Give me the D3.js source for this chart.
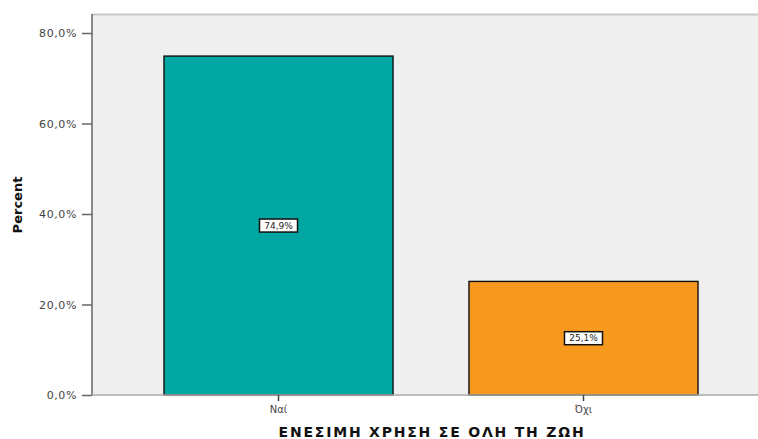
<!DOCTYPE html>
<html>
<head>
<meta charset="utf-8">
<script src="https://cdn.jsdelivr.net/npm/d3@7"></script>
<style>
  body { margin: 0; background: #fff; }
  text { font-family: "DejaVu Sans", Verdana, sans-serif; }
</style>
</head>
<body>
<div id="chart"></div>
<script>
// data
var categories = ["Ναί", "Όχι"];
var percents = [74.9, 25.1];
var yTicks = [0, 20, 40, 60, 80];
var barColors = ["#00a6a1", "#f7991f"];
var xTitle = "ΕΝΕΣΙΜΗ ΧΡΗΣΗ ΣΕ ΟΛΗ ΤΗ ΖΩΗ";
var yTitle = "Percent";

var width = 758,
    height = 439;
// note: "top" is a window global, so use other names
var plotLeft = 92, plotTop = 14, plotBottom = 395;

var svg = d3.select("#chart").append("svg")
    .attr("width", width)
    .attr("height", height);

var y = d3.scaleLinear().domain([0, 84.2]).range([plotBottom, plotTop]);
var x = d3.scaleBand().domain(categories)
    .range([plotLeft, 770])
    .paddingInner(0.249)
    .paddingOuter(0.236);

var fmt = function(v) { return d3.format(".1f")(v).replace(".", ",") + "%"; };

// plot background
svg.append("rect")
    .attr("x", plotLeft).attr("y", plotTop)
    .attr("width", width - plotLeft).attr("height", plotBottom - plotTop)
    .attr("fill", "#efefef");
svg.append("line")
    .attr("x1", plotLeft).attr("x2", width)
    .attr("y1", plotTop + 0.5).attr("y2", plotTop + 0.5)
    .attr("stroke", "#c8c8c8").attr("stroke-width", 2);

// bars
svg.selectAll(".bar")
    .data(percents)
    .enter().append("rect")
    .attr("class", "bar")
    .attr("x", function(d, i) { return x(categories[i]); })
    .attr("y", function(d) { return y(d); })
    .attr("width", x.bandwidth())
    .attr("height", function(d) { return plotBottom - y(d); })
    .attr("fill", function(d, i) { return barColors[i]; })
    .attr("stroke", "#111")
    .attr("stroke-width", 1.4);

// value labels in boxes
var lab = svg.selectAll(".lab")
    .data(percents)
    .enter().append("g")
    .attr("transform", function(d, i) {
        return "translate(" + (x(categories[i]) + x.bandwidth() / 2) + "," + ((y(d) + plotBottom) / 2) + ")";
    });
lab.append("rect")
    .attr("x", -19).attr("y", -6.5)
    .attr("width", 38).attr("height", 13)
    .attr("fill", "#fff")
    .attr("stroke", "#111").attr("stroke-width", 1.5);
lab.append("text")
    .attr("text-anchor", "middle")
    .attr("dy", "0.35em")
    .attr("font-size", 9)
    .attr("fill", "#222")
    .text(fmt);

// y axis
var yAxis = svg.append("g")
    .attr("transform", "translate(" + plotLeft + ",0)")
    .call(d3.axisLeft(y).tickValues(yTicks).tickSize(10).tickPadding(5).tickFormat(fmt));
yAxis.select(".domain").attr("stroke", "#666").attr("stroke-width", 1.5)
    .attr("d", "M0," + plotTop + "V" + plotBottom);
yAxis.selectAll(".tick line").attr("stroke", "#666").attr("stroke-width", 1.5);
yAxis.selectAll(".tick text")
    .attr("font-size", 11)
    .attr("letter-spacing", 0.6)
    .attr("font-family", "DejaVu Sans, sans-serif")
    .attr("fill", "#444");

// x axis
var xAxis = svg.append("g")
    .attr("transform", "translate(0," + plotBottom + ")")
    .call(d3.axisBottom(x).tickSize(6).tickPadding(5));
xAxis.select(".domain").attr("stroke", "#aaa").attr("stroke-width", 1.5)
    .attr("d", "M" + plotLeft + ",0H" + width);
xAxis.selectAll(".tick line").attr("stroke", "#444").attr("stroke-width", 1.5);
xAxis.selectAll(".tick text")
    .attr("font-size", 10)
    .attr("font-family", "DejaVu Sans, sans-serif")
    .attr("fill", "#444");

// axis titles
svg.append("text")
    .attr("x", 432).attr("y", 437)
    .attr("text-anchor", "middle")
    .attr("font-size", 14)
    .attr("font-weight", "bold")
    .attr("letter-spacing", 1.8)
    .attr("fill", "#111")
    .text(xTitle);

svg.append("text")
    .attr("transform", "translate(22,205) rotate(-90)")
    .attr("text-anchor", "middle")
    .attr("font-size", 13)
    .attr("font-weight", "bold")
    .attr("fill", "#111")
    .text(yTitle);
</script>
</body>
</html>
